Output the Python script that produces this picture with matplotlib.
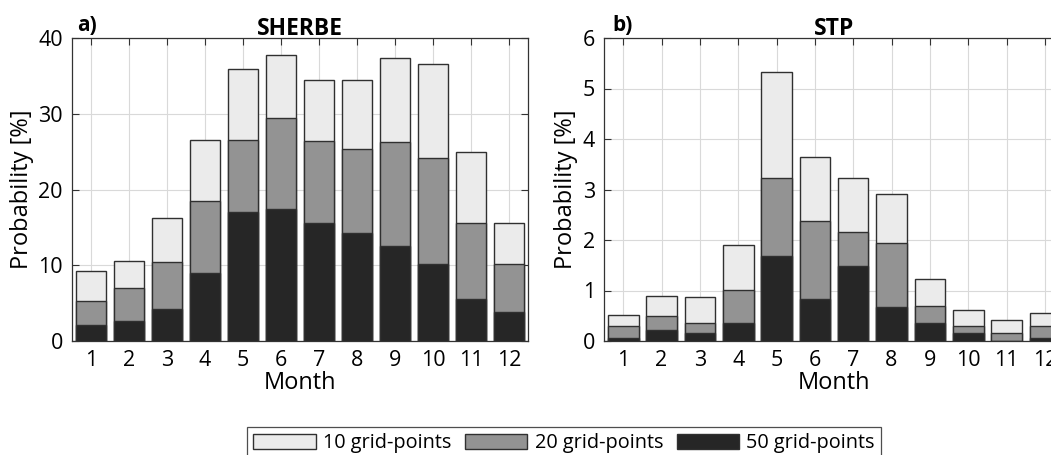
import matplotlib.pyplot as plt
from matplotlib.patches import Patch

months = list(range(1, 13))

# SHERBE, probability [%]
sherbe_10 = [9.2, 10.6, 16.2, 26.5, 35.9, 37.7, 34.4, 34.5, 37.3, 36.6, 25.0, 15.6]
sherbe_20 = [5.3, 7.0, 10.4, 18.5, 26.5, 29.4, 26.4, 25.4, 26.3, 24.2, 15.6, 10.2]
sherbe_50 = [2.1, 2.7, 4.2, 9.0, 17.0, 17.4, 15.6, 14.2, 12.5, 10.2, 5.5, 3.8]

# STP, probability [%]
stp_10 = [0.52, 0.90, 0.87, 1.91, 5.33, 3.65, 3.23, 2.92, 1.22, 0.61, 0.42, 0.56]
stp_20 = [0.30, 0.50, 0.35, 1.01, 3.23, 2.38, 2.15, 1.95, 0.69, 0.30, 0.16, 0.30]
stp_50 = [0.05, 0.22, 0.15, 0.36, 1.69, 0.84, 1.49, 0.67, 0.36, 0.15, 0.00, 0.05]

labels = ["10 grid-points", "20 grid-points", "50 grid-points"]
colors = ["#ebebeb", "#939393", "#262626"]

plt.rcParams["font.family"] = ["Open Sans", "DejaVu Sans"]

fig = plt.figure(figsize=(10.51, 4.55), dpi=100)
W, H = 1051, 455
ax_a = fig.add_axes([72 / W, 1 - 341 / H, 456 / W, 303 / H])
ax_b = fig.add_axes([604 / W, 1 - 341 / H, 460 / W, 303 / H])


def draw(ax, series, ymax, yticks, title, tag, tag_dx):
    for vals, col in zip(series, colors):
        ax.bar(months, vals, width=0.8, color=col, edgecolor="#303030",
               linewidth=1.0, zorder=3)
    ax.set_xlim(0.5, 12.5)
    ax.set_ylim(0, ymax)
    ax.set_xticks(months)
    ax.set_yticks(yticks)
    ax.grid(True, color="#d9d9d9", linewidth=0.8, zorder=0)
    ax.tick_params(direction="in", top=True, right=True, labelsize=15.5,
                   length=5, color="#333333")
    ax.tick_params(axis="x", pad=6.5)
    ax.tick_params(axis="y", pad=6.5)
    for s in ax.spines.values():
        s.set_color("#333333")
        s.set_linewidth(0.9)
    ax.set_xlabel("Month", fontsize=17, labelpad=0)
    ax.set_ylabel("Probability [%]", fontsize=17, labelpad=3)
    ax.set_title(title, fontsize=16.5, fontweight="bold", pad=2.5)
    bbox = ax.get_position()
    ax.text(tag_dx / (bbox.width * W), 1 + 7 / 303, tag, transform=ax.transAxes,
            fontsize=15, fontweight="bold", va="baseline")


draw(ax_a, [sherbe_10, sherbe_20, sherbe_50], 40, [0, 10, 20, 30, 40], "SHERBE", "a)", 5)
draw(ax_b, [stp_10, stp_20, stp_50], 6, [0, 1, 2, 3, 4, 5, 6], "STP", "b)", 8)

handles = [Patch(facecolor=c, edgecolor="#303030", label=l) for c, l in zip(colors, labels)]
leg = fig.legend(handles=handles, loc="center", bbox_to_anchor=(564 / W, 1 - 443 / H),
                 ncol=3, fontsize=14.3, frameon=True, fancybox=False,
                 handlelength=3.15, handleheight=0.8, handletextpad=0.36,
                 columnspacing=0.68, borderpad=0.3, borderaxespad=0)
leg.get_frame().set_edgecolor("#222222")
leg.get_frame().set_linewidth(0.9)

fig.savefig("out.png", dpi=100)
